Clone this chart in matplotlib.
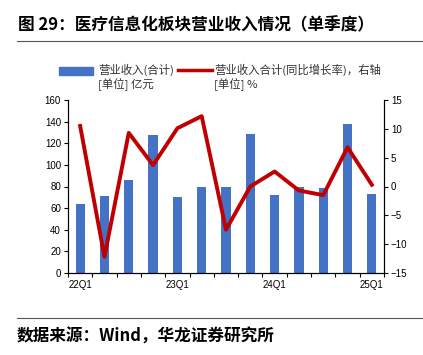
import matplotlib
matplotlib.use("Agg")
import matplotlib.pyplot as plt
from matplotlib.lines import Line2D
import numpy as np

plt.rcParams['font.family'] = ['Liberation Sans', 'Noto Sans CJK SC', 'DejaVu Sans']

quarters = ["22Q1", "22Q2", "22Q3", "22Q4", "23Q1", "23Q2", "23Q3", "23Q4",
            "24Q1", "24Q2", "24Q3", "24Q4", "25Q1"]
revenue = [64, 71, 86, 128, 70, 80, 80, 129, 72.5, 79.5, 79, 138, 73]
yoy = [10.5, -12.2, 9.3, 3.7, 10.1, 12.2, -7.5, 0.0, 2.6, -0.7, -1.5, 6.8, 0.3]
shown_labels = {"22Q1", "23Q1", "24Q1", "25Q1"}

fig = plt.figure(figsize=(4.23, 3.55), dpi=100)
ax = fig.add_axes([68/423, 1-273/355, (384-68)/423, (273-100)/355])
x = np.arange(len(quarters))
ax.bar(x, revenue, width=0.38, color='#4472C4', zorder=2)
ax.set_ylim(0, 160)
ax.set_yticks(range(0, 161, 20))
ax.set_xlim(-0.5, len(quarters)-0.5)
ax.set_xticks(np.arange(-0.5, len(quarters), 1), minor=False)
ax.set_xticklabels([])
ax.set_xticks(x, minor=True)
ax.set_xticklabels([q if q in shown_labels else "" for q in quarters], minor=True)
ax.tick_params(axis='x', which='minor', length=0, labelsize=7, pad=5)
ax.tick_params(axis='x', which='major', length=3, direction='out')
ax.tick_params(axis='y', labelsize=7, length=3, direction='out', pad=2)
ax.spines['top'].set_visible(False)

ax2 = ax.twinx()
ax2.plot(x, yoy, color='#C00000', linewidth=2.8, zorder=3)
ax2.set_ylim(-15, 15)
ax2.set_yticks(range(-15, 16, 5))
ax2.set_yticklabels([str(v).replace('-', '\u2212') for v in range(-15, 16, 5)])
ax2.tick_params(axis='y', labelsize=7, length=3, direction='out', pad=2)
ax2.spines['top'].set_visible(False)

# legend
cjk = ['Noto Sans CJK SC', 'DejaVu Sans']
fig.patches.append(plt.Rectangle((59/423, 1-74.5/355), 34/423, 8/355,
                                 transform=fig.transFigure, color='#4472C4'))
fig.text(98/423, 1-70/355, "营业收入(合计)", fontsize=8.2,
         va='center', ha='left', color='#333333', family=cjk)
fig.text(98/423, 1-85/355, "[单位] 亿元", fontsize=8.2,
         va='center', ha='left', color='#333333', family=cjk)
fig.lines.append(Line2D([178/423, 212/423], [1-70/355, 1-70/355],
                        transform=fig.transFigure, color='#C00000', linewidth=2.5))
fig.text(214/423, 1-70/355, "营业收入合计(同比增长率)，右轴", fontsize=8.2,
         va='center', ha='left', color='#333333', family=cjk)
fig.text(214/423, 1-85/355, "[单位] %", fontsize=8.2,
         va='center', ha='left', color='#333333', family=cjk)

# title and source
fig.text(18/423, 1-25/355, "图 29：医疗信息化板块营业收入情况（单季度）", fontsize=12,
         fontweight='bold', va='center', ha='left', family=cjk)
fig.lines.append(Line2D([17/423, 1.0], [1-41/355, 1-41/355],
                        transform=fig.transFigure, color='#555555', linewidth=0.8))
fig.lines.append(Line2D([17/423, 1.0], [1-318/355, 1-318/355],
                        transform=fig.transFigure, color='#555555', linewidth=0.8))
fig.text(17/423, 1-337/355, "数据来源：Wind，华龙证券研究所", fontsize=12,
         fontweight='bold', va='center', ha='left', family=cjk)

fig.savefig("out.png", dpi=100)
